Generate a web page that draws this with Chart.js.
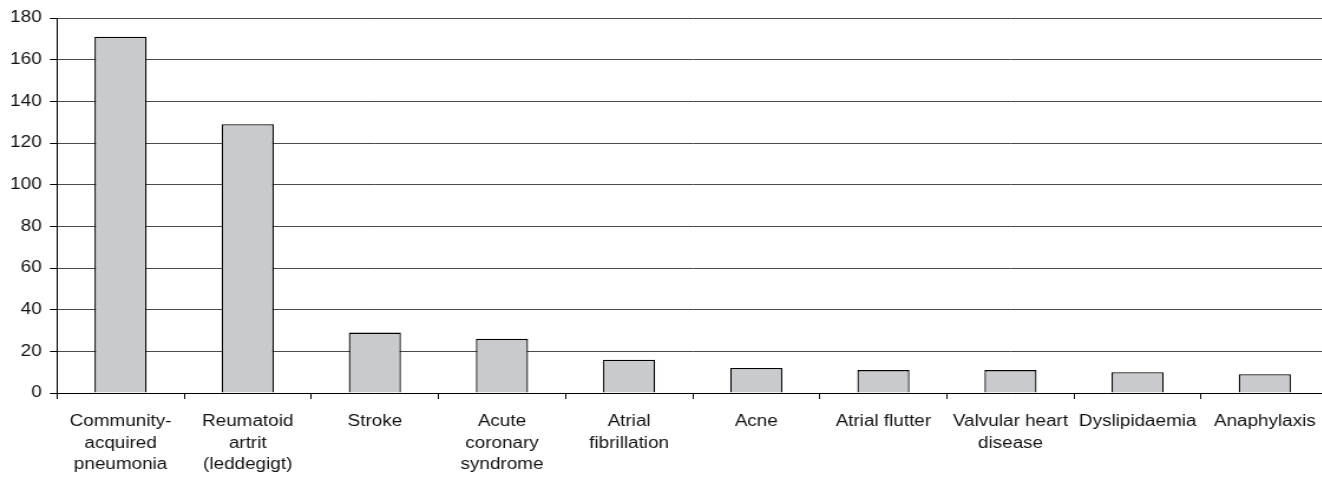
<!DOCTYPE html>
<html>
<head>
<meta charset="utf-8">
<script src="https://cdn.jsdelivr.net/npm/chart.js@4/dist/chart.umd.min.js"></script>
<style>
  html, body { margin: 0; padding: 0; background: #fff; overflow: hidden; width: 1322px; height: 478px; }
  #wrap { position: absolute; left: 0; top: 0; width: 1127px; height: 478px; transform: scaleX(1.18); transform-origin: 0 0; }
</style>
</head>
<body>
<div id="wrap"><canvas id="c" width="1127" height="478"></canvas></div>
<script>
// Diagnoses shown along the x axis (multi-line labels as arrays)
const categories = [
  ["Community-", "acquired", "pneumonia"],
  ["Reumatoid", "artrit", "(leddegigt)"],
  "Stroke",
  ["Acute", "coronary", "syndrome"],
  ["Atrial", "fibrillation"],
  "Acne",
  "Atrial flutter",
  ["Valvular heart", "disease"],
  "Dyslipidaemia",
  "Anaphylaxis"
];

// Number of cases per diagnosis
const counts = [171, 129, 29, 26, 16, 12, 11, 11, 10, 9];

// Value axis range and tick spacing
const yMin = 0;
const yMax = 180;
const yStep = 20;

const FONT = { family: "Arial, 'Liberation Sans', sans-serif", size: 16, lineHeight: 1.35 };

new Chart(document.getElementById('c'), {
  type: 'bar',
  data: {
    labels: categories,
    datasets: [{
      data: counts,
      backgroundColor: '#c8cace',
      borderColor: '#000000',
      borderWidth: 1.3,
      barPercentage: 0.41,
      categoryPercentage: 1.0
    }]
  },
  options: {
    responsive: false,
    animation: false,
    devicePixelRatio: 1,
    layout: { padding: { top: 18, right: 0, left: 0, bottom: 0 } },
    plugins: { legend: { display: false }, tooltip: { enabled: false } },
    scales: {
      x: {
        grid: {
          display: true,
          drawOnChartArea: false,
          offset: true,
          tickLength: 6,
          color: '#000000'
        },
        border: { display: true, color: '#000000', width: 1 },
        ticks: {
          color: '#111111',
          font: FONT,
          padding: 12,
          maxRotation: 0,
          autoSkip: false
        },
        afterFit: (scale) => { scale.height = 85; }
      },
      y: {
        min: yMin,
        max: yMax,
        grid: {
          color: '#4a4a4a',
          lineWidth: 1,
          tickLength: 6,
          tickColor: '#000000'
        },
        border: { display: true, color: '#000000', width: 1 },
        ticks: {
          stepSize: yStep,
          color: '#111111',
          font: FONT,
          padding: 7
        },
        afterFit: (scale) => { scale.width = 48.3; }
      }
    }
  }
});
</script>
</body>
</html>
